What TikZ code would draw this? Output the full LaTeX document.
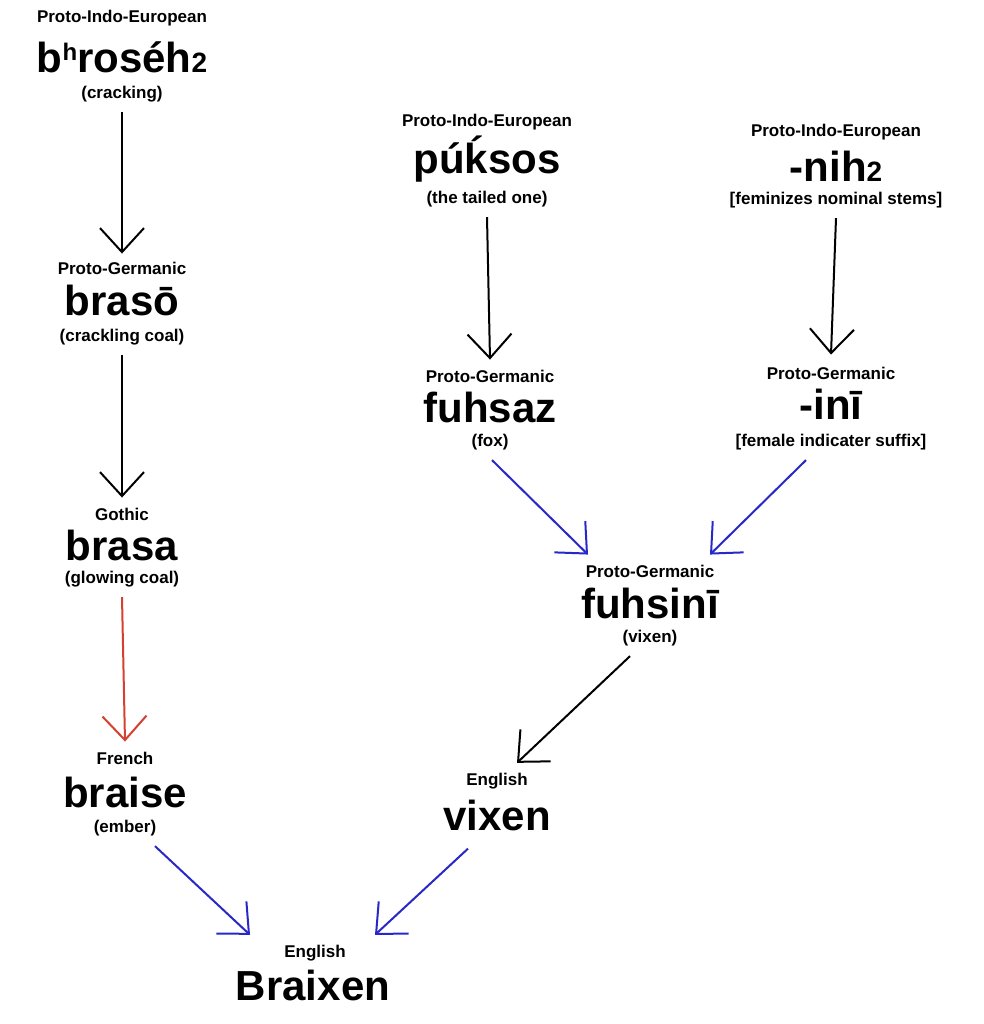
\documentclass[tikz,border=0pt]{standalone}
\usepackage{fontspec}
\setmainfont{Liberation Sans}
\usetikzlibrary{arrows.meta,calc}
\begin{document}
\begin{tikzpicture}[x=1pt,y=-1pt,
  lab/.style={font=\fontsize{17}{19}\selectfont\bfseries, inner sep=0pt},
  big/.style={font=\fontsize{42}{44}\selectfont\bfseries, inner sep=0pt},
  arr/.style={line width=2pt, -{Straight Barb[length=24pt,width=44pt,line width=2pt]}},
  blk/.style={arr,black},
  red/.style={arr,color={rgb,255:red,214;green,64;blue,48}},
  blu/.style={arr,color={rgb,255:red,40;green,40;blue,200}}]
\fill[white] (0,0) rectangle (983,1024);
\useasboundingbox (0,0) rectangle (983,1024);
% left column
\node[lab] (l1) at (122,18) {Proto-Indo-European};
\node[big] (w1) at (122,57) {b\raisebox{12pt}{\fontsize{24}{24}\selectfont h}roséh{\fontsize{28}{28}\selectfont 2}};
\node[lab] (g1) at (122,94) {(cracking)};
\node[lab] (l2) at (122,268) {Proto-Germanic};
\node[big] (w2) at (122,300) {brasō};
\node[lab] (g2) at (122,337) {(crackling coal)};
\node[lab] (l3) at (122,514) {Gothic};
\node[big] (w3) at (122,545) {brasa};
\node[lab] (g3) at (122,579) {(glowing coal)};
\node[lab] (l4) at (125,758) {French};
\node[big] (w4) at (125,792) {braise};
\node[lab] (g4) at (125,828) {(ember)};
\node[lab] (l5) at (315,953) {English};
\node[big] (w5) at (313,985) {Braixen};
% middle
\node[lab] (l6) at (487,122) {Proto-Indo-European};
\node[big] (w6) at (487,159) {pú\'ksos};
\node[lab] (g6) at (487,199) {(the tailed one)};
\node[lab] (l7) at (490,376) {Proto-Germanic};
\node[big] (w7) at (490,407) {fuhsaz};
\node[lab] (g7) at (490,442) {(fox)};
% right
\node[lab] (l8) at (836,132) {Proto-Indo-European};
\node[big] (w8) at (836,166) {-nih{\fontsize{28}{28}\selectfont 2}};
\node[lab] (g8) at (836,200) {[feminizes nominal stems]};
\node[lab] (l9) at (831,373) {Proto-Germanic};
\node[big] (w9) at (831,404) {-inī};
\node[lab] (g9) at (831,442) {[female indicater suffix]};
\node[lab] (l10) at (650,571) {Proto-Germanic};
\node[big] (w10) at (650,603) {fuhsinī};
\node[lab] (g10) at (650,638) {(vixen)};
\node[lab] (l11) at (497,781) {English};
\node[big] (w11) at (497,815) {vixen};
% arrows
\draw[blk] ($(g1.south)+(0,10)$) -- ($(l2.north)+(0,-8)$);
\draw[blk] ($(g2.south)+(0,10)$) -- ($(l3.north)+(0,-10)$);
\draw[red] ($(g3.south)+(0,10)$) -- ($(l4.north)+(0,-10)$);
\draw[blk] ($(g6.south)+(0,10)$) -- ($(l7.north)+(0,-10)$);
\draw[blk] ($(g8.south)+(0,10)$) -- ($(l9.north)+(0,-12)$);
\draw[blu] ($(g4.south)+(30,10)$) -- ($(l5.north)+(-65,-10)$);
\draw[blu] ($(w11.south)+(-29,18)$) -- ($(l5.north)+(60,-10)$);
\draw[blu] ($(g7.south)+(2,10)$) -- ($(l10.north)+(-62,-10)$);
\draw[blu] ($(g9.south)+(-25,10)$) -- ($(l10.north)+(60,-10)$);
\draw[blk] ($(g10.south)+(-20,10)$) -- ($(l11.north)+(20,-10)$);
\end{tikzpicture}
\end{document}
